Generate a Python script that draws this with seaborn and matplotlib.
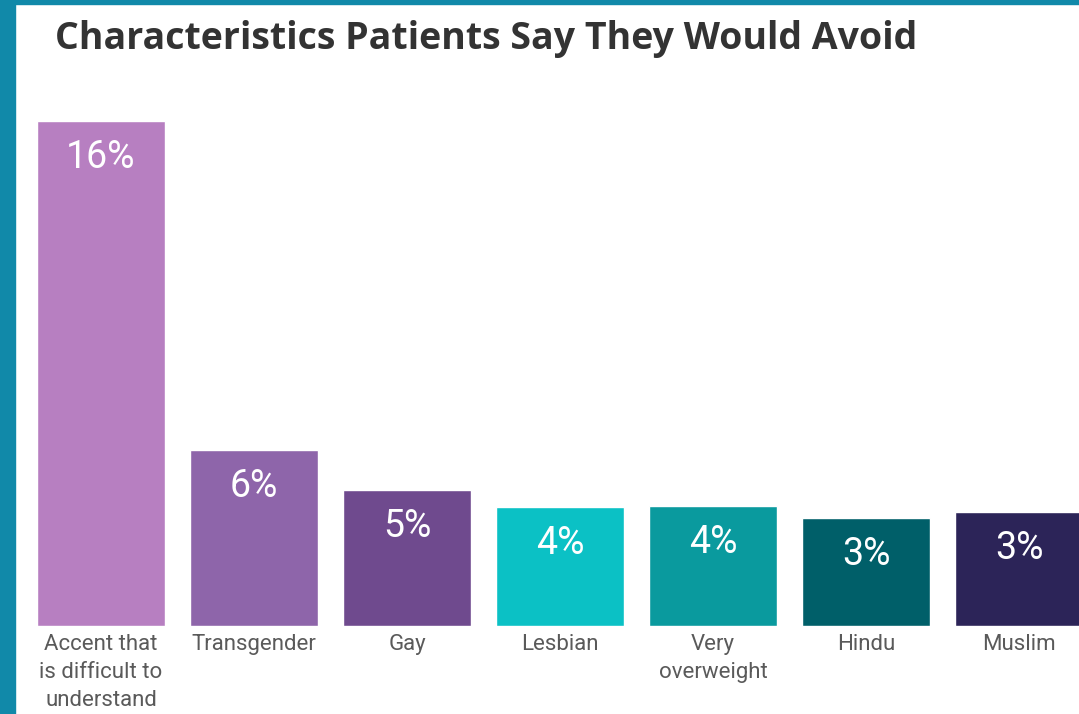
import matplotlib
matplotlib.use("Agg")
import matplotlib.pyplot as plt
from matplotlib.patches import Rectangle
import seaborn as sns
import pandas as pd

# values (bar heights), plus the printed labels
categories = ["Accent that\nis difficult to\nunderstand", "Transgender", "Gay", "Lesbian",
              "Very\noverweight", "Hindu", "Muslim"]
heights = [16.0, 5.58, 4.31, 3.77, 3.80, 3.42, 3.61]
value_labels = ["16%", "6%", "5%", "4%", "4%", "3%", "3%"]
colors = ["#B77FC1", "#8E65AA", "#6F4A8E", "#0BC1C5", "#0A9A9E", "#005F69", "#2C2458"]

df = pd.DataFrame({"category": categories, "pct": heights})

sns.set_theme(style="white")
plt.rcParams["font.family"] = ["Roboto", "DejaVu Sans"]

fig = plt.figure(figsize=(10.79, 7.14), dpi=100)
fig.patch.set_facecolor("white")

ax = fig.add_axes([15 / 1079, 88 / 714, 1064 / 1079, 526 / 714])
sns.barplot(data=df, x="category", y="pct", hue="category", palette=colors,
            width=0.837, saturation=1, legend=False, ax=ax)

ax.set_xlim(-0.562, 6.392)
ax.set_ylim(0, 16.67)
ax.set_xlabel("")
ax.set_ylabel("")
ax.set_yticks([])
for s in ax.spines.values():
    s.set_visible(False)
ax.tick_params(axis="x", length=0, pad=6, labelsize=16, labelcolor="#5a5a5a")
for t in ax.get_xticklabels():
    t.set_linespacing(1.42)

for bar, lab in zip(ax.patches, value_labels):
    ax.annotate(lab, (bar.get_x() + bar.get_width() / 2, bar.get_height()),
                xytext=(0, -26), textcoords="offset points", ha="center", va="center",
                color="white", fontsize=27)

# title
fig.text(55 / 1079, 1 - 39 / 714, "Characteristics Patients Say They Would Avoid",
         ha="left", va="center", fontsize=27, fontweight="bold", color="#333333",
         family=["Open Sans", "DejaVu Sans"])

# teal frame on left and top
teal = "#1189A9"
fig.patches.append(Rectangle((0, 0), 15 / 1079, 1, transform=fig.transFigure,
                             color=teal, zorder=10))
fig.patches.append(Rectangle((0, 1 - 4 / 714), 1, 4 / 714, transform=fig.transFigure,
                             color=teal, zorder=10))

fig.savefig("out.png", dpi=100)
